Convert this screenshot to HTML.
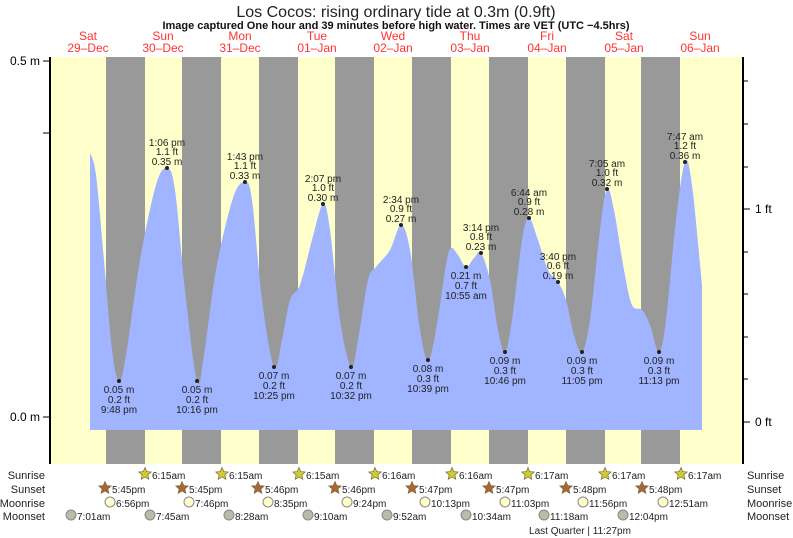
<!DOCTYPE html><html><head><style>body{margin:0;background:#fff}svg{display:block;font-family:"Liberation Sans",sans-serif}</style></head><body>
<svg width="793" height="538" viewBox="0 0 793 538" xmlns="http://www.w3.org/2000/svg">
<rect x="50" y="57" width="692" height="407" fill="#ffffcc"/>
<g fill="#999">
<rect x="106" y="57" width="39" height="407"/><rect x="182" y="57" width="39" height="407"/><rect x="259" y="57" width="39" height="407"/><rect x="335" y="57" width="39" height="407"/><rect x="412" y="57" width="39" height="407"/><rect x="489" y="57" width="39" height="407"/><rect x="566" y="57" width="39" height="407"/><rect x="641" y="57" width="39" height="407"/>
</g>
<path id="tide" fill="#a0b4ff" d=""/>
<line x1="50" y1="57" x2="50" y2="464" stroke="#000" stroke-width="2"/>
<line x1="743" y1="57" x2="743" y2="464" stroke="#000" stroke-width="2"/>
<g stroke="#000"><line x1="43" y1="61" x2="50" y2="61"/><line x1="43" y1="133" x2="50" y2="133"/><line x1="43" y1="417" x2="50" y2="417"/>
<line x1="743" y1="81" x2="748" y2="81"/><line x1="743" y1="124" x2="748" y2="124"/><line x1="743" y1="167" x2="748" y2="167"/><line x1="743" y1="209" x2="750" y2="209"/><line x1="743" y1="252" x2="748" y2="252"/><line x1="743" y1="294" x2="748" y2="294"/><line x1="743" y1="337" x2="748" y2="337"/><line x1="743" y1="379" x2="748" y2="379"/><line x1="743" y1="422" x2="750" y2="422"/></g>
<g font-size="12" fill="#000"><text x="40" y="65" text-anchor="end">0.5 m</text><text x="40" y="421" text-anchor="end">0.0 m</text><text x="755" y="213">1 ft</text><text x="755" y="426">0 ft</text></g>
<text x="396" y="17" text-anchor="middle" font-size="16" fill="#222">Los Cocos: rising  ordinary tide at 0.3m (0.9ft)</text>
<text x="396" y="29" text-anchor="middle" font-size="11" font-weight="bold" fill="#111">Image captured One hour and 39 minutes before high water. Times are VET (UTC −4.5hrs)</text>
<g font-size="12" fill="#ff3333" text-anchor="middle">
<text x="88" y="40">Sat</text><text x="88" y="52">29–Dec</text>
<text x="163" y="40">Sun</text><text x="163" y="52">30–Dec</text>
<text x="240" y="40">Mon</text><text x="240" y="52">31–Dec</text>
<text x="317" y="40">Tue</text><text x="317" y="52">01–Jan</text>
<text x="393" y="40">Wed</text><text x="393" y="52">02–Jan</text>
<text x="470" y="40">Thu</text><text x="470" y="52">03–Jan</text>
<text x="547" y="40">Fri</text><text x="547" y="52">04–Jan</text>
<text x="624" y="40">Sat</text><text x="624" y="52">05–Jan</text>
<text x="700" y="40">Sun</text><text x="700" y="52">06–Jan</text>
</g>
<g id="lbl" font-size="10" fill="#222" text-anchor="middle"></g>
<g font-size="11" fill="#222">
<g text-anchor="end"><text x="45" y="479">Sunrise</text><text x="45" y="493">Sunset</text><text x="45" y="507">Moonrise</text><text x="45" y="520">Moonset</text></g>
<text x="747" y="479">Sunrise</text><text x="747" y="493">Sunset</text><text x="747" y="507">Moonrise</text><text x="747" y="520">Moonset</text>
</g>
<g id="ev" font-size="10" fill="#222"></g>
<text x="580" y="534" text-anchor="middle" font-size="10" fill="#222">Last Quarter | 11:27pm</text>
</svg>
<script>
var p=[[90,153],[96,175],[104,260],[112,350],[119,381],[126,355],[140,260],[156,185],[167,168],[175,190],[185,290],[197,381],[204,355],[216,270],[233,198],[245,182],[252,200],[262,300],[274,367],[282,340],[290,300],[300,285],[312,240],[323,204],[330,230],[340,320],[351,367],[358,340],[368,280],[376,267],[390,250],[401,225],[410,250],[420,330],[428,360],[436,330],[446,265],[451,248],[458,255],[466,267],[474,258],[481,253],[490,280],[498,330],[505,352],[512,320],[522,240],[529,218],[538,240],[548,270],[558,282],[566,300],[574,335],[582,352],[590,320],[600,230],[607,189],[614,210],[624,270],[632,305],[642,310],[650,325],[659,352],[666,320],[676,220],[685,162],[692,185],[702,285]];
var d="M90,430 L90,153";
for(var i=0;i<p.length-1;i++){var a=p[i-1]||p[i],b=p[i],c=p[i+1],e=p[i+2]||c;
d+=" C"+(b[0]+(c[0]-a[0])/6)+","+(b[1]+(c[1]-a[1])/6)+" "+(c[0]-(e[0]-b[0])/6)+","+(c[1]-(e[1]-b[1])/6)+" "+c[0]+","+c[1];}
d+=" L702,430 Z";document.getElementById("tide").setAttribute("d",d);
var NS="http://www.w3.org/2000/svg",L=document.getElementById("lbl");
function t(g,x,y,s,an){var e=document.createElementNS(NS,"text");e.setAttribute("x",x);e.setAttribute("y",y);if(an)e.setAttribute("text-anchor",an);e.textContent=s;g.appendChild(e);}
function dot(x,y){var c=document.createElementNS(NS,"circle");c.setAttribute("cx",x);c.setAttribute("cy",y);c.setAttribute("r",2);L.appendChild(c);}
var hi=[[167,168,"1:06 pm","1.1 ft","0.35 m"],[245,182,"1:43 pm","1.1 ft","0.33 m"],[323,204,"2:07 pm","1.0 ft","0.30 m"],[401,225,"2:34 pm","0.9 ft","0.27 m"],[481,253,"3:14 pm","0.8 ft","0.23 m"],[529,218,"6:44 am","0.9 ft","0.28 m"],[558,282,"3:40 pm","0.6 ft","0.19 m"],[607,189,"7:05 am","1.0 ft","0.32 m"],[685,162,"7:47 am","1.2 ft","0.36 m"]];
hi.forEach(function(h){dot(h[0],h[1]);t(L,h[0],h[1]-22,h[2]);t(L,h[0],h[1]-13,h[3]);t(L,h[0],h[1]-3,h[4]);});
var lo=[[119,381,"0.05 m","0.2 ft","9:48 pm"],[197,381,"0.05 m","0.2 ft","10:16 pm"],[274,367,"0.07 m","0.2 ft","10:25 pm"],[351,367,"0.07 m","0.2 ft","10:32 pm"],[466,267,"0.21 m","0.7 ft","10:55 am"],[428,360,"0.08 m","0.3 ft","10:39 pm"],[505,352,"0.09 m","0.3 ft","10:46 pm"],[582,352,"0.09 m","0.3 ft","11:05 pm"],[659,352,"0.09 m","0.3 ft","11:13 pm"]];
lo.forEach(function(h){dot(h[0],h[1]);t(L,h[0],h[1]+12,h[2]);t(L,h[0],h[1]+22,h[3]);t(L,h[0],h[1]+32,h[4]);});
var E=document.getElementById("ev");
function star(x,y,f){var s="";for(var k=0;k<10;k++){var r=k%2?3:6.5,an=Math.PI*k/5-Math.PI/2;s+=(x+r*Math.cos(an)).toFixed(1)+","+(y+r*Math.sin(an)).toFixed(1)+" ";}
var q=document.createElementNS(NS,"polygon");q.setAttribute("points",s);q.setAttribute("fill",f);q.setAttribute("stroke","#776633");q.setAttribute("stroke-width","0.7");E.appendChild(q);}
function circ(x,y,f){var c=document.createElementNS(NS,"circle");c.setAttribute("cx",x);c.setAttribute("cy",y);c.setAttribute("r",5);c.setAttribute("fill",f);c.setAttribute("stroke","#888");E.appendChild(c);}
[[145,"6:15am"],[222,"6:15am"],[299,"6:15am"],[375,"6:16am"],[452,"6:16am"],[528,"6:17am"],[605,"6:17am"],[681,"6:17am"]].forEach(function(a){star(a[0],474,"#cccc33");t(E,a[0]+7,479,a[1]);});
[[105,"5:45pm"],[182,"5:45pm"],[258,"5:46pm"],[335,"5:46pm"],[412,"5:47pm"],[489,"5:47pm"],[566,"5:48pm"],[642,"5:48pm"]].forEach(function(a){star(a[0],488,"#aa6633");t(E,a[0]+7,493,a[1]);});
[[110,"6:56pm"],[189,"7:46pm"],[268,"8:35pm"],[347,"9:24pm"],[425,"10:13pm"],[505,"11:03pm"],[583,"11:56pm"],[663,"12:51am"]].forEach(function(a){circ(a[0],502,"#ffffcc");t(E,a[0]+6,507,a[1]);});
[[71,"7:01am"],[150,"7:45am"],[229,"8:28am"],[308,"9:10am"],[387,"9:52am"],[466,"10:34am"],[544,"11:18am"],[623,"12:04pm"]].forEach(function(a){circ(a[0],515,"#bbbbaa");t(E,a[0]+6,520,a[1]);});
</script>
</body></html>
